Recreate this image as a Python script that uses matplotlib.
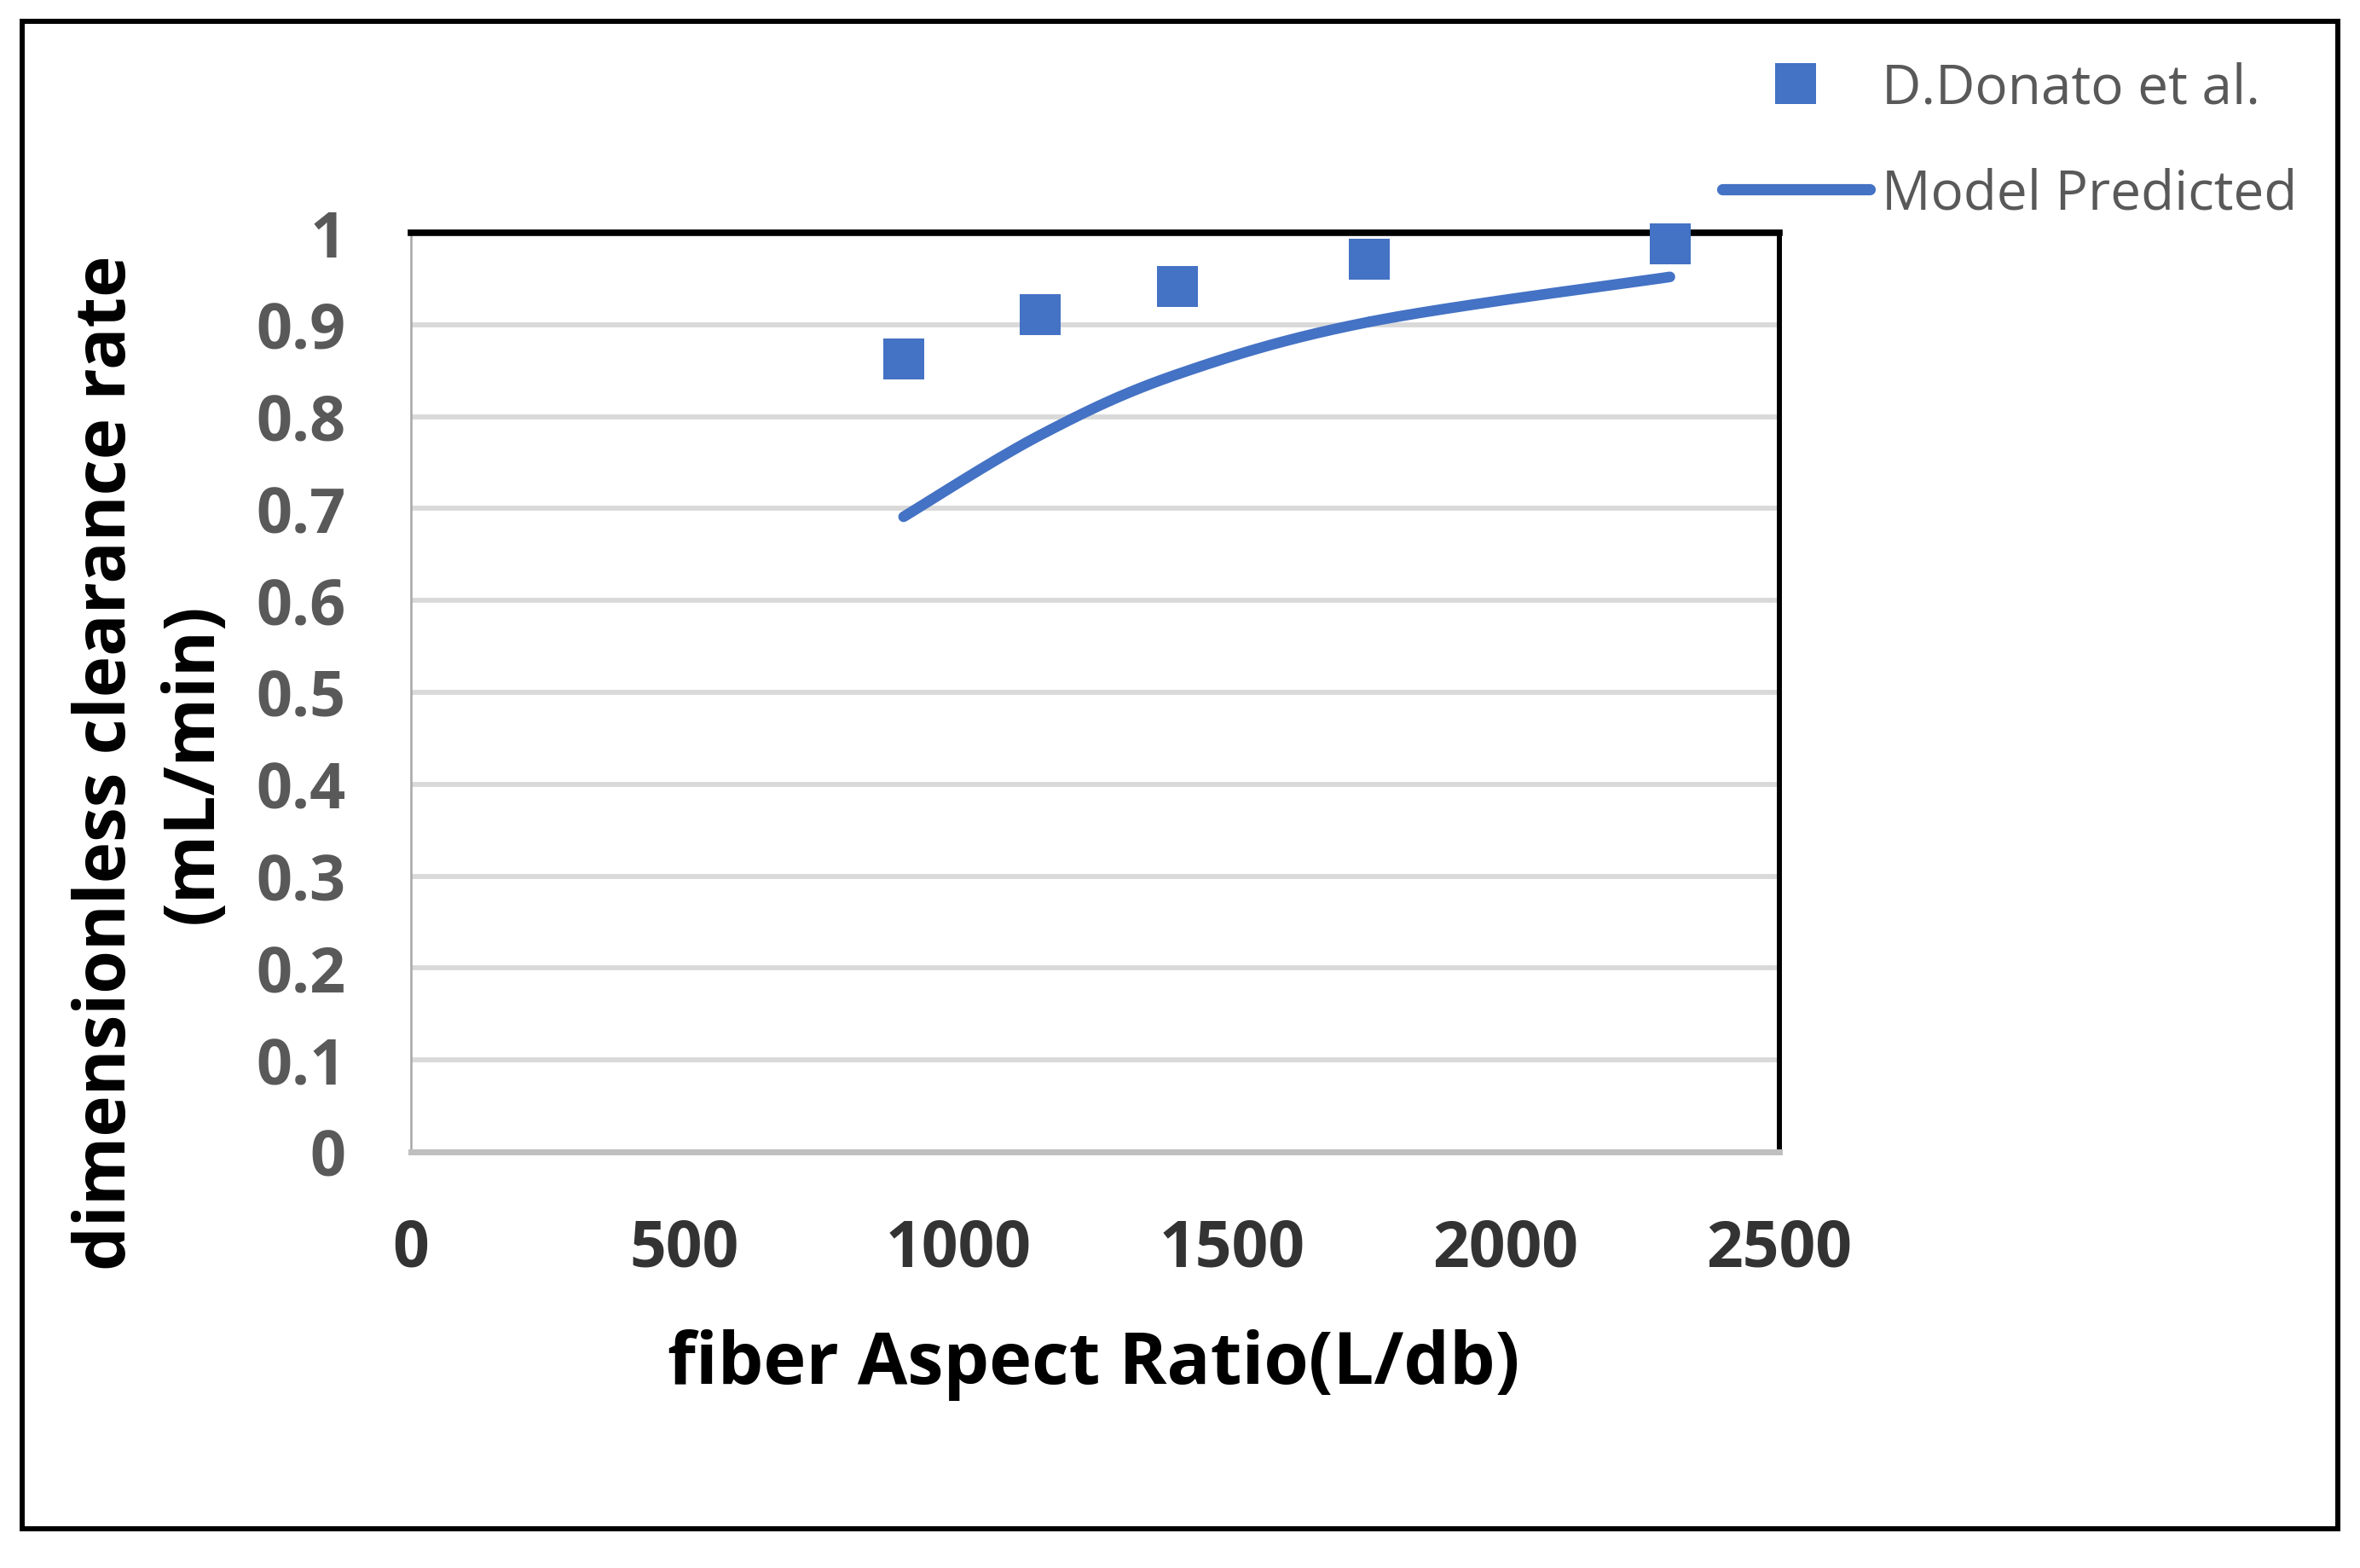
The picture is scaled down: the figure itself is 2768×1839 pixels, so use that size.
import numpy as np
import matplotlib
matplotlib.use("Agg")
import matplotlib.pyplot as plt
from matplotlib.lines import Line2D
from matplotlib.patches import Rectangle

# Data
aspect_ratio = [900, 1150, 1400, 1750, 2300]
donato = [0.863, 0.911, 0.942, 0.971, 0.988]
model = [0.691, 0.780, 0.846, 0.903, 0.952]

x_ticks = [0, 500, 1000, 1500, 2000, 2500]
y_ticks = [0, 0.1, 0.2, 0.3, 0.4, 0.5, 0.6, 0.7, 0.8, 0.9, 1]
y_tick_labels = ["0", "0.1", "0.2", "0.3", "0.4", "0.5", "0.6", "0.7", "0.8", "0.9", "1"]

blue = "#4472C4"
plt.rcParams["font.family"] = ["Open Sans", "DejaVu Sans"]


def smooth(xs, ys, n=40):
    # Excel-like smoothed line (Catmull-Rom through the points)
    xs = np.asarray(xs, float)
    ys = np.asarray(ys, float)
    px = np.concatenate([[xs[0]], xs, [xs[-1]]])
    py = np.concatenate([[ys[0]], ys, [ys[-1]]])
    outx, outy = [], []
    t = np.linspace(0, 1, n)
    for i in range(1, len(px) - 2):
        for p, out in ((px, outx), (py, outy)):
            p0, p1, p2, p3 = p[i - 1], p[i], p[i + 1], p[i + 2]
            out.extend(0.5 * ((2 * p1) + (-p0 + p2) * t
                              + (2 * p0 - 5 * p1 + 4 * p2 - p3) * t ** 2
                              + (-p0 + 3 * p1 - 3 * p2 + p3) * t ** 3))
    return outx, outy


W, H = 2768, 1840
fig = plt.figure(figsize=(W / 100, H / 100), dpi=100)

# outer chart border
fig.patches.append(Rectangle((26 / W, 1 - 1794 / H), (2742 - 26) / W, (1794 - 26) / H,
                             transform=fig.transFigure, fill=False, edgecolor="black",
                             linewidth=4.3, zorder=0))

ax = fig.add_axes([482 / W, 1 - 1352 / H, (2087 - 482) / W, (1352 - 274) / H])

ax.set_xlim(0, 2500)
ax.set_ylim(0, 1)
ax.yaxis.grid(True, color="#d9d9d9", linewidth=4.2)
ax.set_axisbelow(True)
ax.set_yticks(y_ticks)
ax.set_yticklabels(y_tick_labels)
ax.set_xticks(x_ticks)

ax.tick_params(axis="both", length=0)
ax.tick_params(axis="y", pad=55, labelsize=53, labelcolor="#595959")
ax.tick_params(axis="x", pad=55, labelsize=54, labelcolor="#333333")
for lab in ax.get_xticklabels() + ax.get_yticklabels():
    lab.set_fontweight("bold")

ax.spines["top"].set_color("black")
ax.spines["top"].set_linewidth(5.5)
ax.spines["right"].set_color("black")
ax.spines["right"].set_linewidth(4.3)
ax.spines["left"].set_color("#a6a6a6")
ax.spines["left"].set_linewidth(1.8)
ax.spines["bottom"].set_color("#bfbfbf")
ax.spines["bottom"].set_linewidth(5)

sx, sy = smooth(aspect_ratio, model)
ax.plot(sx, sy, color=blue, linewidth=9, solid_capstyle="round", clip_on=False, zorder=3)
ax.plot(aspect_ratio, donato, linestyle="none", marker="s", markersize=34.6,
        markerfacecolor=blue, markeredgewidth=0, clip_on=False, zorder=4)

# axis titles
fig.text(1283 / W, 1 - 1601 / H, "fiber Aspect Ratio(L/db)", ha="center", va="center",
         fontsize=61, fontweight="bold", color="black")
fig.text(176 / W, 1 - 895 / H, "dimensionless clearance rate\n(mL/min)", ha="center",
         va="center", rotation=90, multialignment="center", linespacing=1.3,
         fontsize=59, fontweight="bold", color="black")

# legend
handles = [Line2D([], [], linestyle="none", marker="s", markersize=34.6,
                  markerfacecolor=blue, markeredgewidth=0),
           Line2D([], [], color=blue, linewidth=9.5, solid_capstyle="round")]
leg = fig.legend(handles, ["D.Donato et al.", "Model Predicted"],
                 loc="upper left", bbox_to_anchor=(2020 / W, 1 - 72 / H),
                 frameon=False, fontsize=46, handlelength=2.7, handletextpad=0.23,
                 labelspacing=0.95, borderpad=0, borderaxespad=0)
for t in leg.get_texts():
    t.set_color("#595959")

fig.savefig("out.png", dpi=100)
